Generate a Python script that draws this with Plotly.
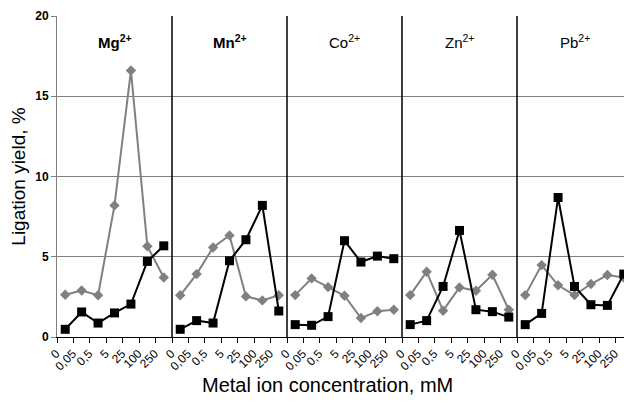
import plotly.graph_objects as go

metals = ["Mg", "Mn", "Co", "Zn", "Pb"]
bold_titles = [True, True, False, False, False]
conc_labels = ["0", "0,05", "0,5", "5", "25", "100", "250"]

gray_values = {
    "Mg": [2.63, 2.9, 2.6, 8.2, 16.6, 5.65, 3.71],
    "Mn": [2.6, 3.92, 5.58, 6.33, 2.53, 2.28, 2.6],
    "Co": [2.61, 3.65, 3.11, 2.57, 1.18, 1.6, 1.7],
    "Zn": [2.61, 4.07, 1.64, 3.09, 2.88, 3.88, 1.7],
    "Pb": [2.61, 4.48, 3.22, 2.61, 3.3, 3.86, 3.71],
}
black_values = {
    "Mg": [0.48, 1.56, 0.87, 1.5, 2.05, 4.71, 5.68],
    "Mn": [0.48, 1.02, 0.87, 4.75, 6.06, 8.2, 1.62],
    "Co": [0.77, 0.73, 1.27, 6.0, 4.67, 5.04, 4.88],
    "Zn": [0.77, 1.02, 3.15, 6.64, 1.7, 1.58, 1.24],
    "Pb": [0.77, 1.47, 8.69, 3.15, 2.01, 1.97, 3.92],
}

n = len(conc_labels)
fig = go.Figure()
for i, m in enumerate(metals):
    xs = [i * n + k for k in range(n)]
    fig.add_trace(go.Scatter(
        x=xs, y=gray_values[m], mode="lines+markers",
        line=dict(color="#808080", width=2),
        marker=dict(symbol="diamond", size=8, color="#808080"),
        showlegend=False, cliponaxis=False))
    fig.add_trace(go.Scatter(
        x=xs, y=black_values[m], mode="lines+markers",
        line=dict(color="#000000", width=2),
        marker=dict(symbol="square", size=9, color="#000000"),
        showlegend=False, cliponaxis=False))
    title = f"{m}<sup>2+</sup>"
    if bold_titles[i]:
        title = f"<b>{title}</b>"
    fig.add_annotation(x=i * n + (n - 1) / 2, y=18.4, xref="x", yref="y",
                       text=title, showarrow=False,
                       font=dict(family="Liberation Sans, Arial, sans-serif", size=15, color="#000"))
    if i > 0:
        fig.add_shape(type="line", xref="x", yref="y",
                      x0=i * n - 0.5, x1=i * n - 0.5, y0=0, y1=20,
                      line=dict(color="#000000", width=1.5))

# x-axis title, centred as in the reference (slightly left of plot centre)
fig.add_annotation(x=0.47, y=-0.15, xref="paper", yref="paper",
                   xanchor="center", yanchor="middle", showarrow=False,
                   text="Metal ion concentration, mM",
                   font=dict(size=20, color="#000"))

tickvals = list(range(n * len(metals)))
ticktext = conc_labels * len(metals)

fig.update_layout(
    width=624, height=395,
    margin=dict(l=49, r=0, t=8, b=66),
    plot_bgcolor="white", paper_bgcolor="white",
    font=dict(family="Liberation Sans, Arial, sans-serif", color="#000"),
    xaxis=dict(
        automargin=False,
        range=[-0.5, n * len(metals) - 0.5],
        tickmode="array", tickvals=tickvals, ticktext=ticktext,
        tickangle=-45, ticks="", tickfont=dict(size=12),
        ticklabelshift=-9, ticklabelstandoff=4,
        showline=True, linecolor="#000000", linewidth=1,
        showgrid=False, zeroline=False,
        minor=dict(tickmode="linear", tick0=-0.5, dtick=1, ticks="outside",
                   ticklen=5, tickcolor="#000000", showgrid=False),
    ),
    yaxis=dict(
        automargin=False,
        range=[0, 20], tickvals=[0, 5, 10, 15, 20],
        tickfont=dict(size=12, weight="bold"),
        ticks="outside", ticklen=5, tickcolor="#808080",
        showline=True, linecolor="#808080", linewidth=1,
        showgrid=True, gridcolor="#808080", gridwidth=1,
        zeroline=False,
        title=dict(text="Ligation yield, %", font=dict(size=19), standoff=7),
    ),
)

fig.write_html("out.html")
